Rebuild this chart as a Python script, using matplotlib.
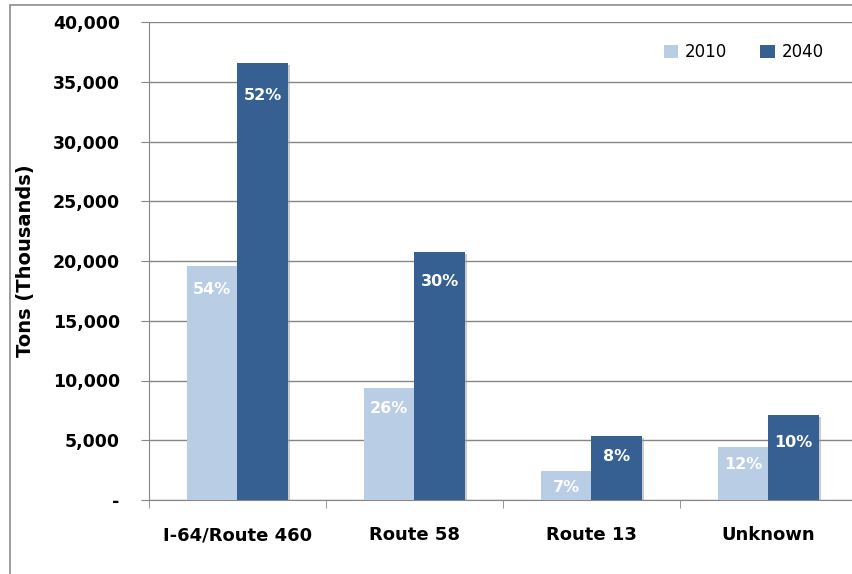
import matplotlib.pyplot as plt
import matplotlib.patheffects as pe
from matplotlib.patches import Rectangle
from matplotlib.ticker import FuncFormatter, FixedLocator
import numpy as np

routes = ['I-64/Route 460', 'Route 58', 'Route 13', 'Unknown']
tons_2010 = [19600, 9400, 2400, 4450]
tons_2040 = [36600, 20750, 5350, 7100]
share_2010 = ['54%', '26%', '7%', '12%']
share_2040 = ['52%', '30%', '8%', '10%']

# how far below the bar top each share label sits (points)
drop_2010 = [17, 15, 12, 13]
drop_2040 = [24, 21, 15, 20]

c2010 = '#B9CDE5'
c2040 = '#376092'
grey = '#868686'

fig = plt.figure(figsize=(8.53, 5.74), dpi=100)
fig.patches.append(Rectangle((10 / 853, -0.1), 1.2, 1.1 - 5 / 574,
                             transform=fig.transFigure, fill=False,
                             edgecolor='#8c8c8c', linewidth=1.2))

ax = fig.add_axes([149 / 853, 1 - 500 / 574, 708 / 853, 478 / 574])

x = np.arange(len(routes))
w = 0.285
shadow = [pe.SimplePatchShadow(offset=(1.5, -1.5), shadow_rgbFace='#9a9a9a', alpha=0.5), pe.Normal()]
b1 = ax.bar(x - w / 2, tons_2010, w, color=c2010, label='2010', zorder=3, path_effects=shadow)
b2 = ax.bar(x + w / 2, tons_2040, w, color=c2040, label='2040', zorder=3, path_effects=shadow)

for bars, labels, drops in ((b1, share_2010, drop_2010), (b2, share_2040, drop_2040)):
    for bar, lab, d in zip(bars, labels, drops):
        ax.annotate(lab, (bar.get_x() + bar.get_width() / 2, bar.get_height()),
                    xytext=(0, -d), textcoords='offset points', ha='center', va='center',
                    color='white', fontsize=11.5, fontweight='bold', zorder=4)

ax.set_xlim(-0.5, 3.5)
ax.set_ylim(0, 40000)
ax.set_yticks(np.arange(0, 40001, 5000))
ax.yaxis.set_major_formatter(FuncFormatter(lambda v, p: '-' if v == 0 else f'{int(v):,}'))
ax.grid(axis='y', color=grey, linewidth=1, zorder=0)
ax.set_axisbelow(True)

ax.set_xticks(x)
ax.set_xticklabels(routes, fontsize=13, fontweight='bold')
ax.xaxis.set_minor_locator(FixedLocator(np.arange(-0.5, 3.6, 1)))
ax.tick_params(axis='x', which='major', length=0, pad=19)
ax.tick_params(axis='x', which='minor', length=6, color=grey)
ax.tick_params(axis='y', length=6, color=grey, labelsize=12.5, pad=15)
for t in ax.get_yticklabels():
    t.set_fontweight('bold')

for s in ('top', 'right'):
    ax.spines[s].set_visible(False)
for s in ('left', 'bottom'):
    ax.spines[s].set_color(grey)

ax.set_ylabel('Tons (Thousands)', fontsize=14, fontweight='bold')
ax.yaxis.set_label_coords(-0.161, 0.5)

leg = ax.legend(loc='center left', bbox_to_anchor=(0.718, 0.937), ncol=2, frameon=False,
                fontsize=12, handlelength=0.85, handleheight=0.85, columnspacing=2.0,
                handletextpad=0.4, borderaxespad=0)
for h in leg.legend_handles:
    h.set_path_effects([])

fig.savefig('out.png', dpi=100)
